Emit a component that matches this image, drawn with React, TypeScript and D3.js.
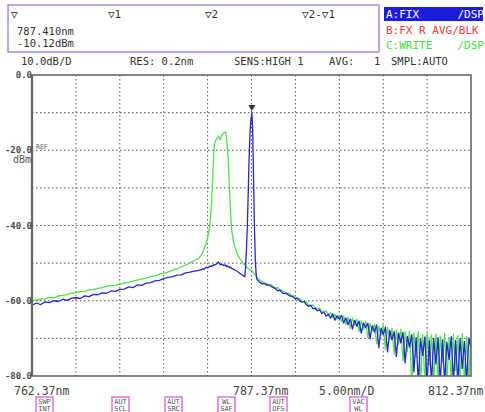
import React, { useEffect, useRef } from 'react';
import * as d3 from 'd3';

// sampling grid in nm (coarse on the left, fine around the peaks, 0.25nm on the right)
const wlLeft = d3.range(39).map((i) => +(762.37 + i * 0.5).toFixed(2));
const wlPeak = [
  781.6, 781.8, 782.0, 782.2, 782.4, 782.6, 782.8, 782.9, 783.0, 783.1,
  783.2, 783.4, 783.6, 783.8, 784.0, 784.2, 784.4, 784.5, 784.6, 784.7,
  784.8, 784.9, 785.0, 785.1, 785.3, 785.5, 785.8, 786.1, 786.4, 786.6,
  786.7, 786.8, 786.9, 787.0, 787.1, 787.2, 787.3, 787.41, 787.5, 787.6,
  787.7, 787.8, 787.9, 788.0, 788.2,
];
const wlRight = d3.range(97).map((i) => +(788.37 + i * 0.25).toFixed(2));
const wavelengths = [...wlLeft, ...wlPeak, ...wlRight];

// trace A (FIX, blue), dBm
const traceA = [
  -61.2, -60.6, -61.0, -60.3, -60.5, -60.0, -60.2, -59.6, -59.9, -59.3,
  -59.2, -59.4, -58.7, -58.9, -58.3, -58.4, -57.9, -58.0, -57.4, -57.5,
  -57.0, -56.9, -56.3, -56.5, -55.8, -55.9, -55.3, -55.2, -54.7, -54.6,
  -54.1, -53.8, -53.6, -53.2, -53.1, -52.6, -52.4, -52.1, -51.9,
  -51.8, -51.5, -51.6, -51.1, -51.2, -50.8, -50.9, -50.6, -50.7, -50.4,
  -50.5, -50.2, -49.7, -50.4, -50.3, -50.6, -50.5, -50.9, -50.7, -51.0,
  -50.9, -51.2, -51.1, -51.4, -51.6, -51.9, -52.3, -52.8, -53.3, -53.6,
  -51.0, -46.0, -40.0, -31.0, -22.0, -15.5, -12.0, -10.12, -14.0, -27.0,
  -40.0, -49.0, -53.0, -54.4, -54.9,
  -55.2, -55.5, -55.4, -55.9, -55.8, -56.2, -56.5, -56.8, -57.4, -57.2,
  -57.9, -58.1, -58.0, -58.6, -58.8, -59.0, -59.5, -59.3, -60.1, -60.4,
  -60.2, -61.0, -61.5, -61.2, -62.1, -62.0, -62.7, -62.4, -63.4, -63.0,
  -64.1, -63.6, -64.6, -63.5, -65.2, -64.0, -64.8, -63.9, -65.9, -64.6,
  -66.4, -64.9, -67.5, -65.2, -66.8, -65.4, -68.6, -65.9, -67.2, -66.0,
  -70.1, -66.7, -68.3, -66.4, -72.5, -67.3, -69.0, -67.0, -73.6, -67.9,
  -70.4, -68.2, -74.8, -68.6, -71.2, -68.4, -76.5, -69.5, -72.3, -69.0,
  -78.9, -69.8, -82.0, -70.2, -74.5, -69.6, -82.0, -70.5, -82.0, -70.0,
  -76.8, -69.8, -82.0, -70.4, -82.0, -71.0, -75.6, -69.5, -82.0, -70.6,
  -82.0, -70.1, -78.0, -70.8, -82.0, -69.9, -72.5,
];

// trace C (WRITE, green), dBm
const traceC = [
  -60.0, -59.8, -59.6, -59.5, -59.1, -59.2, -58.7, -58.6, -58.4, -58.0,
  -57.9, -57.6, -57.5, -57.1, -57.0, -56.7, -56.5, -56.2, -56.0, -55.9,
  -55.6, -55.3, -55.1, -54.8, -54.5, -54.2, -54.0, -53.6, -53.4, -53.0,
  -52.7, -52.3, -51.9, -51.5, -51.0, -50.5, -50.0, -49.3, -48.7,
  -48.0, -47.2, -46.0, -44.8, -43.0, -40.5, -35.0, -30.0, -24.5, -19.5,
  -17.8, -17.0, -16.3, -17.2, -16.0, -15.4, -15.2, -16.0, -18.5, -22.0,
  -27.0, -32.0, -37.0, -41.0, -44.0, -46.0, -47.8, -49.0, -50.0, -50.5,
  -50.8, -51.0, -51.2, -51.4, -51.6, -51.7, -51.9, -52.0, -52.3, -52.6,
  -52.9, -53.2, -53.5, -53.8, -54.2,
  -54.6, -55.0, -55.3, -55.4, -55.9, -55.7, -56.3, -56.6, -56.5, -57.1,
  -57.3, -57.6, -58.2, -58.0, -58.5, -58.7, -58.9, -59.6, -59.4, -59.9,
  -60.5, -60.3, -61.0, -61.3, -61.1, -61.8, -62.2, -61.9, -62.8, -63.1,
  -62.7, -63.8, -63.2, -64.5, -63.6, -64.9, -63.8, -65.6, -64.0, -66.3,
  -64.4, -67.4, -64.6, -66.5, -64.9, -68.2, -65.3, -67.6, -65.5, -69.8,
  -66.0, -68.0, -66.2, -71.4, -66.8, -69.2, -66.5, -72.9, -67.1, -70.3,
  -67.4, -74.2, -67.8, -71.6, -67.6, -76.0, -68.3, -73.5, -68.0, -82.0,
  -68.6, -75.0, -68.2, -82.0, -69.0, -82.0, -68.4, -77.2, -69.1, -82.0,
  -68.8, -82.0, -69.4, -76.3, -68.6, -82.0, -69.8, -82.0, -68.9, -78.5,
  -69.3, -82.0, -68.7, -82.0, -69.5, -82.0, -68.0,
];

const yTicks = [0, -20, -40, -60, -80];
const yTickLabels = ['0.0', '-20.0', '-40.0', '-60.0', '-80.0'];
const xLabels = ['762.37nm', '787.37nm', '5.00nm/D', '812.37nm'];
const headerItems = ['10.0dB/D', 'RES: 0.2nm', 'SENS:HIGH 1', 'AVG:', '1', 'SMPL:AUTO'];
const markerItems = ['\u25BD', '\u25BD1', '\u25BD2', '\u25BD2-\u25BD1'];
const markerReadout = ['787.410nm', '-10.12dBm'];
const softKeys = [['SWP', 'INT'], ['AUT', 'SCL'], ['AUT', 'SRC'], ['WL', 'SAF'], ['AUT', 'OFS'], ['VAC', 'WL']];

const FONT = '"DejaVu Sans Mono", monospace';

function App() {
  const svgRef = useRef(null);

  useEffect(() => {
    const svg = d3.select(svgRef.current);
    svg.selectAll('*').remove();

    const left = 32, right = 471, top = 75, bottom = 376;
    const x = d3.scaleLinear().domain([762.37, 812.37]).range([left, right]);
    const y = d3.scaleLinear().domain([-80, 0]).range([bottom, top]);

    svg.append('rect').attr('width', 485).attr('height', 412).attr('fill', '#fff');

    // marker box
    svg.append('rect')
      .attr('x', 8).attr('y', 5).attr('width', 371).attr('height', 47)
      .attr('fill', 'none').attr('stroke', '#a88ce0').attr('stroke-width', 1.5);
    const markerX = [11, 108, 205, 302];
    markerItems.forEach((t, i) => {
      svg.append('text').attr('x', markerX[i]).attr('y', 18)
        .attr('font-family', FONT).attr('font-size', 11).attr('fill', '#333').text(t);
    });
    markerReadout.forEach((t, i) => {
      svg.append('text').attr('x', 17).attr('y', 35 + i * 12)
        .attr('font-family', FONT).attr('font-size', 10.5).attr('fill', '#333').text(t);
    });

    // trace legend
    svg.append('rect').attr('x', 384).attr('y', 7).attr('width', 99).attr('height', 14).attr('fill', '#1c1cdc');
    const legendRows = [
      { l: 'A:FIX', r: '/DSP', c: '#fff', yy: 18 },
      { l: 'B:FX R AVG/BLK', r: '', c: '#ee3c3c', yy: 34 },
      { l: 'C:WRITE', r: '/DSP', c: '#3ee03e', yy: 49 },
    ];
    legendRows.forEach((row) => {
      svg.append('text').attr('x', 386).attr('y', row.yy)
        .attr('font-family', FONT).attr('font-size', 11).attr('fill', row.c).text(row.l);
      if (row.r) {
        svg.append('text').attr('x', 484).attr('y', row.yy).attr('text-anchor', 'end')
          .attr('font-family', FONT).attr('font-size', 11).attr('fill', row.c).text(row.r);
      }
    });

    // header row
    const headerX = [21, 130, 234, 329, 374, 391];
    headerItems.forEach((t, i) => {
      svg.append('text').attr('x', headerX[i]).attr('y', 65)
        .attr('font-family', FONT).attr('font-size', 10.5).attr('fill', '#333').text(t);
    });

    // grid
    const grid = svg.append('g').attr('stroke', '#555').attr('stroke-width', 1).attr('stroke-dasharray', '1.5,2.5');
    d3.range(1, 10).forEach((k) => {
      const gx = x(762.37 + k * 5);
      grid.append('line').attr('x1', gx).attr('x2', gx).attr('y1', top).attr('y2', bottom);
    });
    d3.range(1, 8).forEach((k) => {
      const gy = y(-k * 10);
      grid.append('line').attr('x1', left).attr('x2', right).attr('y1', gy).attr('y2', gy);
    });

    // traces
    const clipId = 'plot-clip';
    svg.append('clipPath').attr('id', clipId).append('rect')
      .attr('x', left).attr('y', top).attr('width', right - left).attr('height', bottom - top);
    const line = d3.line<number>().x((_, i) => x(wavelengths[i])).y((d) => y(d));
    const traces = svg.append('g').attr('clip-path', `url(#${clipId})`);
    traces.append('path').attr('d', line(traceC)).attr('fill', 'none')
      .attr('stroke', '#4ee24e').attr('stroke-width', 1.3).attr('stroke-linejoin', 'round');
    traces.append('path').attr('d', line(traceA)).attr('fill', 'none')
      .attr('stroke', '#2626d4').attr('stroke-width', 1.3).attr('stroke-linejoin', 'round');

    // frame
    svg.append('rect').attr('x', left).attr('y', top).attr('width', right - left).attr('height', bottom - top)
      .attr('fill', 'none').attr('stroke', '#666').attr('stroke-width', 1.6);
    svg.append('line').attr('x1', left).attr('x2', left).attr('y1', top).attr('y2', bottom)
      .attr('stroke', '#666').attr('stroke-width', 2.2);

    // peak marker
    const px = x(787.41), py = y(-10.12);
    svg.append('path')
      .attr('d', `M${px - 3.5},${py - 8} L${px + 3.5},${py - 8} L${px},${py - 2} Z`)
      .attr('fill', '#333');

    // y labels
    yTicks.forEach((v, i) => {
      svg.append('text').attr('x', 32).attr('y', y(v) + 3).attr('text-anchor', 'end')
        .attr('font-family', FONT).attr('font-size', 9).attr('font-weight', 'bold')
        .attr('fill', '#4a4a4a').text(yTickLabels[i]);
    });
    svg.append('text').attr('x', 36).attr('y', y(-20) - 1)
      .attr('font-family', FONT).attr('font-size', 6.5).attr('fill', '#555').text('REF');
    svg.append('text').attr('x', 31).attr('y', y(-20) + 13).attr('text-anchor', 'end')
      .attr('font-family', FONT).attr('font-size', 10).attr('fill', '#555').text('dBm');

    // x labels
    const xLabelX = [14, 233, 319, 428];
    xLabels.forEach((t, i) => {
      svg.append('text').attr('x', xLabelX[i]).attr('y', 395)
        .attr('font-family', FONT).attr('font-size', 11.5).attr('fill', '#444').text(t);
    });

    // soft keys
    const keyX = [36, 112, 165, 218, 270, 350];
    softKeys.forEach((k, i) => {
      const g = svg.append('g').attr('transform', `translate(${keyX[i]},397)`);
      g.append('rect').attr('width', 17).attr('height', 16).attr('fill', '#fff')
        .attr('stroke', '#e070e0').attr('stroke-width', 1.5);
      k.forEach((s, j) => {
        g.append('text').attr('x', 8.5).attr('y', 7 + j * 7).attr('text-anchor', 'middle')
          .attr('font-family', FONT).attr('font-size', 7).attr('fill', '#555').text(s);
      });
    });
  }, []);

  return (
    <svg ref={svgRef} width={485} height={412}
      style={{ position: 'absolute', left: 0, top: 0, display: 'block' }} />
  );
}

export default App;
